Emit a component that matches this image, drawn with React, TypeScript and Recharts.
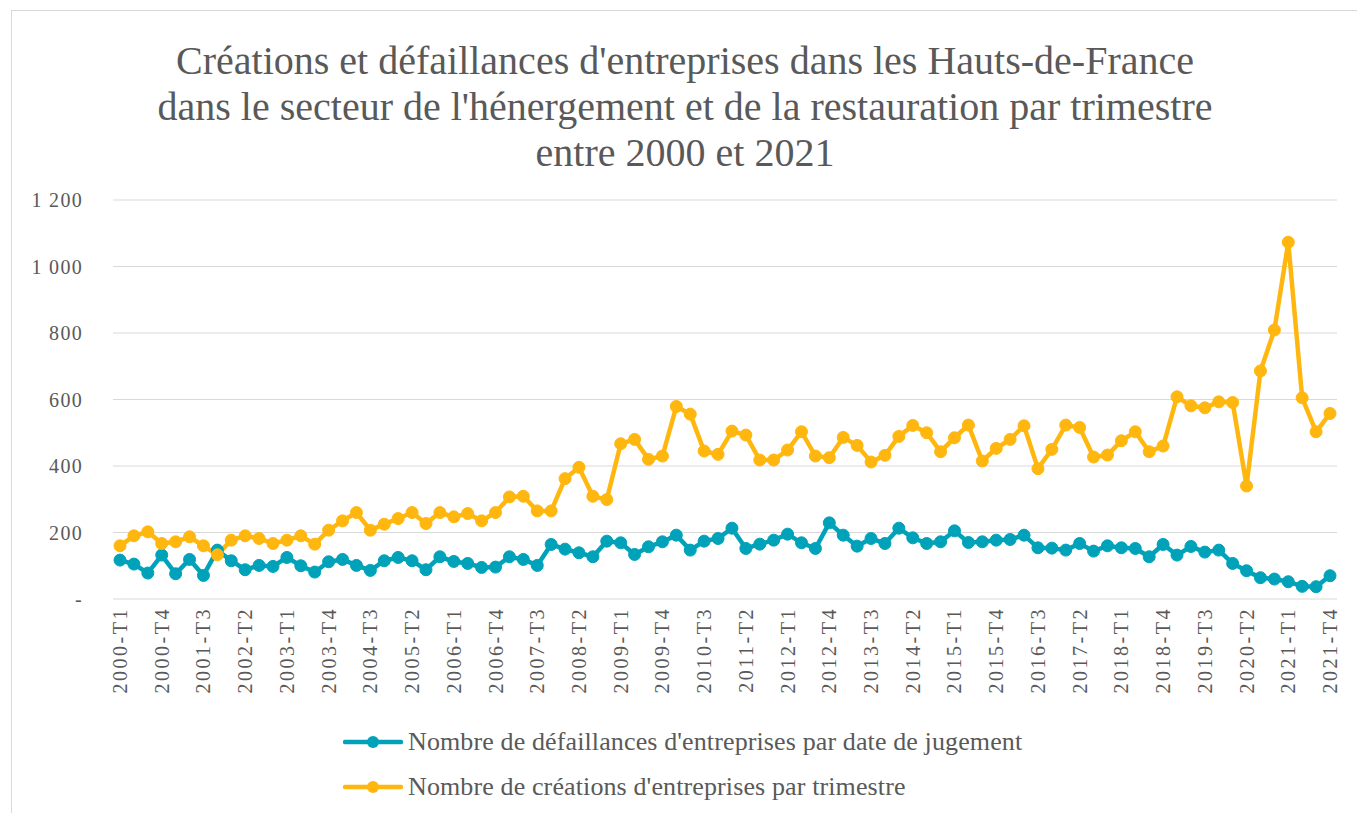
import React from "react";
import { LineChart, Line, XAxis, YAxis, CartesianGrid, Legend } from "recharts";

const years = [2000, 2001, 2002, 2003, 2004, 2005, 2006, 2007, 2008, 2009, 2010, 2011, 2012, 2013, 2014, 2015, 2016, 2017, 2018, 2019, 2020, 2021];
const quarters = ["T1", "T2", "T3", "T4"];
const categories: string[] = years.flatMap((y) => quarters.map((q) => `${y}-${q}`));

const defaillances = [
  117, 105, 78, 132, 76, 119, 71, 147, 115, 88, 101, 98, 125, 100, 81, 112, 119, 101, 86, 115, 125, 115,
  88, 127, 113, 107, 95, 96, 127, 119, 101, 164, 150, 139, 127, 174, 169, 134, 157, 172, 192, 147, 174, 182,
  213, 152, 165, 177, 195, 169, 152, 229, 192, 159, 182, 167, 213, 184, 167, 172, 205, 170, 172, 177, 179, 192,
  154, 153, 147, 167, 144, 160, 154, 152, 127, 164, 132, 158, 141, 147, 107, 85, 64, 60, 52, 38, 37, 70,
];

const creations = [
  160, 190, 202, 167, 172, 187, 160, 133, 177, 190, 182, 167, 177, 190, 165, 207, 235, 260, 207, 225, 242, 260,
  227, 260, 247, 257, 235, 260, 307, 309, 265, 265, 362, 396, 309, 299, 467, 480, 420, 430, 579, 556, 445, 435,
  505, 493, 418, 418, 448, 503, 430, 425, 486, 462, 412, 432, 489, 522, 500, 443, 485, 523, 415, 453, 480, 521,
  392, 450, 523, 516, 427, 433, 476, 503, 443, 460, 608, 581, 575, 593, 591, 340, 686, 809, 1073, 605, 503, 558,
];

const yTicks = [0, 200, 400, 600, 800, 1000, 1200];
const yTickLabels = ["-", "200", "400", "600", "800", "1 000", "1 200"];

const seriesNames = [
  "Nombre de défaillances d'entreprises par date de jugement",
  "Nombre de créations d'entreprises par trimestre",
];
const titleLines = [
  "Créations et défaillances d'entreprises dans les Hauts-de-France",
  "dans le secteur de l'hénergement et de la restauration par trimestre",
  "entre 2000 et 2021",
];

const TEAL = "#00A2B9";
const GOLD = "#FFB70F";
const TEXT = "#595959";
const FONT = "'Liberation Serif', serif";

const data = categories.map((c, i) => ({ cat: c, def: defaillances[i], cre: creations[i] }));

const XTick = (props: any) => {
  const { x, y, payload } = props;
  return (
    <text
      x={x}
      y={y}
      transform={`rotate(-90 ${x} ${y})`}
      textAnchor="end"
      dominantBaseline="central"
      fontSize={20}
      letterSpacing={2.5}
      fontFamily={FONT}
      fill={TEXT}
    >
      {payload.value}
    </text>
  );
};

const LegendContent = () => {
  const colors = [TEAL, GOLD];
  return (
    <div style={{ fontFamily: FONT }}>
      {seriesNames.map((n, i) => (
        <div key={n} style={{ display: "flex", alignItems: "center", height: 45 }}>
          <svg width={60} height={16} style={{ marginRight: 5 }}>
            <line x1={2} y1={8} x2={58} y2={8} stroke={colors[i]} strokeWidth={4.5} strokeLinecap="round" />
            <circle cx={30} cy={8} r={6} fill={colors[i]} />
          </svg>
          <span style={{ fontSize: 26, color: TEXT, whiteSpace: "nowrap", letterSpacing: 0.12 }}>{n}</span>
        </div>
      ))}
    </div>
  );
};

export default function App() {
  return (
    <div style={{ position: "absolute", left: 0, top: 0, width: 1357, height: 813, background: "#fff", overflow: "hidden" }}>
      <div
        style={{
          position: "absolute",
          left: 11,
          top: 10,
          width: 1360,
          height: 820,
          border: "1px solid #d9d9d9",
          boxSizing: "border-box",
        }}
      />
      <div
        style={{
          position: "absolute",
          left: 0,
          top: 38,
          width: 1370,
          textAlign: "center",
          fontFamily: FONT,
          fontSize: 40,
          lineHeight: "46px",
          color: TEXT,
        }}
      >
        {titleLines.map((t) => (
          <div key={t}>{t}</div>
        ))}
      </div>
      <div style={{ position: "absolute", left: 0, top: 0 }}>
        <LineChart width={1357} height={813} data={data} margin={{ top: 200, right: 20, left: 0, bottom: 24 }}>
          <CartesianGrid vertical={false} stroke="#d9d9d9" strokeWidth={1.2} />
          <XAxis
            dataKey="cat"
            interval={2}
            height={100}
            padding={{ left: 7, right: 7 }}
            axisLine={false}
            tickLine={false}
            tick={<XTick />}
          />
          <YAxis
            width={113}
            domain={[0, 1200]}
            ticks={yTicks}
            axisLine={false}
            tickLine={false}
            tickMargin={24}
            tickFormatter={(v: number) => yTickLabels[yTicks.indexOf(v)]}
            tick={{ fill: TEXT, fontSize: 20, fontFamily: FONT, letterSpacing: 1.3 }}
          />
          <Legend
            content={<LegendContent />}
            wrapperStyle={{ position: "absolute", left: 343, top: 719, width: 900, height: 90 }}
          />
          <Line
            type="linear"
            dataKey="def"
            name={seriesNames[0]}
            stroke={TEAL}
            strokeWidth={4.5}
            dot={{ r: 6, fill: TEAL, stroke: TEAL, strokeWidth: 1 }}
            isAnimationActive={false}
          />
          <Line
            type="linear"
            dataKey="cre"
            name={seriesNames[1]}
            stroke={GOLD}
            strokeWidth={4.5}
            dot={{ r: 6, fill: GOLD, stroke: GOLD, strokeWidth: 1 }}
            isAnimationActive={false}
          />
        </LineChart>
      </div>
    </div>
  );
}
